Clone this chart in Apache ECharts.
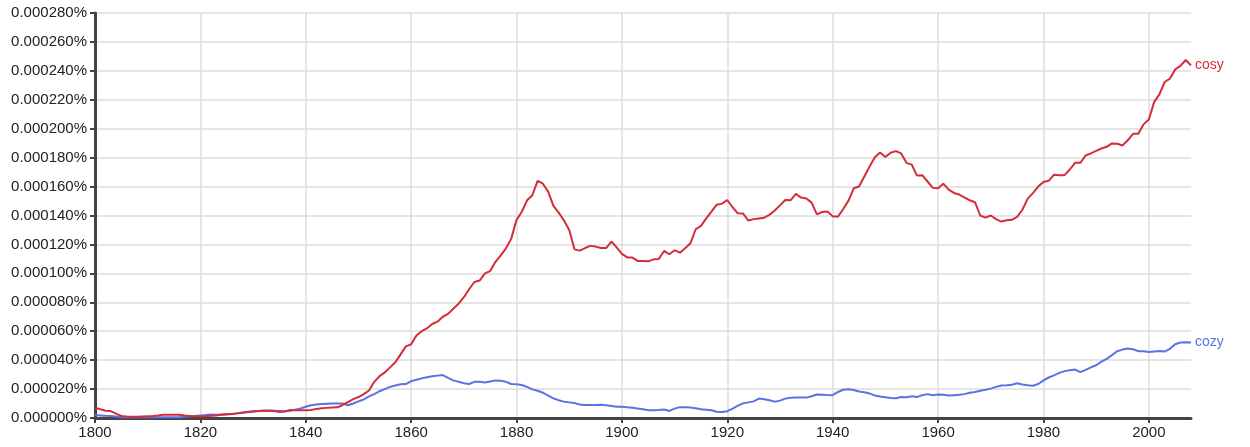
<!DOCTYPE html>
<html>
<head>
<meta charset="utf-8">
<script src="https://cdn.jsdelivr.net/npm/echarts@6/dist/echarts.min.js"></script>
<style>
html,body{margin:0;padding:0;background:#fff;}
#chart{width:1250px;height:447px;}
</style>
</head>
<body>
<div id="chart"></div>
<script>
// Years 1800..2008, values in millionths of a percent (1 = 0.000001%)
const startYear = 1800;
const endYear = 2008;
const xTicks = [1800, 1820, 1840, 1860, 1880, 1900, 1920, 1940, 1960, 1980, 2000];
const yTicks = [0, 20, 40, 60, 80, 100, 120, 140, 160, 180, 200, 220, 240, 260, 280];

const cosy = [
  7.1, 6, 5, 4.8, 3, 1.4, 1, 0.8, 0.8, 1,
  1.2, 1.4, 1.8, 2.3, 2.3, 2.3, 2.3, 1.8, 1.4, 1.2,
  1, 1.2, 1.6, 1.8, 2.2, 2.5, 2.8, 3.2, 3.8, 4.4,
  4.7, 4.9, 5, 5, 4.8, 4.2, 4.5, 5.5, 5.4, 5.3,
  5.3, 5.6, 6.3, 6.8, 7, 7.2, 7.4, 9, 11, 13,
  14.5, 16.5, 19, 25, 29, 31.5, 35, 38.5, 44, 49.5,
  51, 57, 60, 62, 65, 66.6, 70, 72, 75.5, 79,
  83.5, 89, 94, 95, 100, 101.6, 108, 112.5, 117.3, 124,
  137, 142.6, 150.5, 154, 164, 162, 156.5, 146.6, 142, 136.5,
  130, 116.6, 115.7, 117.5, 119, 118.5, 117.5, 117.5, 122, 118,
  113.5, 111, 110.9, 108.6, 108.5, 108.3, 109.7, 110, 115.5, 113.2,
  116, 114.3, 117.3, 120.8, 130.5, 132.8, 138, 142.7, 147.5, 148.2,
  150.7, 145.7, 141.5, 141.3, 136.5, 137.5, 138, 138.5, 140.5, 143.5,
  147, 150.7, 150.5, 154.9, 152.4, 151.7, 148.9, 140.8, 142.4, 142.7,
  139.4, 139.2, 144.5, 150.3, 158.8, 160, 166.9, 173.8, 180.2, 183.5,
  180.4, 183.4, 184.5, 182.9, 176.4, 175.2, 167.6, 167.9, 163.5, 159.1,
  158.8, 162, 157.9, 155.6, 154.5, 152.5, 150.5, 149.2, 140, 138.5,
  140, 137.5, 135.8, 136.7, 137, 139, 144, 151.7, 155.5, 160,
  163.2, 164, 168.2, 167.9, 167.9, 171.8, 176.4, 176.4, 181.5, 183,
  184.7, 186.3, 187.5, 189.8, 189.6, 188.4, 192, 196.5, 196.5, 203,
  206.4, 218.4, 223.7, 232.3, 234.6, 241, 243.4, 247.5, 243.8
];

const cozy = [
  2, 1.8, 1.5, 1.4, 1, 0.6, 0.5, 0.5, 0.5, 0.5,
  0.5, 0.5, 0.5, 0.5, 0.5, 0.5, 0.6, 0.8, 1, 1.4,
  1.8, 2, 2.5, 2.3, 2.5, 2.7, 2.8, 3.2, 3.6, 4,
  4.4, 4.8, 5, 5.1, 5, 4.8, 4.6, 5, 5.8, 6.6,
  7.8, 8.8, 9.4, 9.7, 9.9, 10, 10, 10, 8.8, 10,
  11.5, 12.8, 15, 16.5, 18.5, 20, 21.5, 22.5, 23.3, 23.5,
  25.5, 26.5, 27.4, 28.2, 28.8, 29.3, 29.7, 27.8, 26, 25,
  24, 23.5, 25, 25, 24.6, 25.3, 26, 25.7, 25, 23.5,
  23.3, 22.8, 21.5, 19.8, 18.8, 17.5, 15.5, 13.6, 12.3, 11.3,
  10.8, 10.3, 9.3, 9, 9, 9, 9.2, 8.8, 8.3, 7.8,
  7.8, 7.4, 7.1, 6.5, 6, 5.3, 5.4, 5.6, 5.9, 4.9,
  6.5, 7.5, 7.5, 7.3, 6.8, 6.1, 5.7, 5.3, 4.3, 4.2,
  4.7, 6.5, 8.5, 10.1, 10.8, 11.5, 13.4, 13, 12.3, 11.3,
  12, 13.4, 14, 14.1, 14.1, 14.1, 15, 16.2, 16.1, 15.9,
  15.8, 18, 19.5, 19.8, 19.3, 18.3, 17.8, 17, 15.5, 14.8,
  14.4, 13.8, 13.6, 14.5, 14.3, 15, 14.5, 15.8, 16.5, 15.8,
  16.2, 16, 15.6, 15.8, 16, 16.5, 17.5, 18, 18.8, 19.5,
  20.3, 21.5, 22.5, 22.6, 23, 24, 23.2, 22.6, 22.3, 23.5,
  26, 28, 29.5, 31.2, 32.4, 33, 33.5, 31.7, 33.3, 35,
  36.5, 39, 40.9, 43.5, 46.2, 47.3, 48, 47.5, 46.2, 46.2,
  45.6, 46, 46.4, 45.9, 47.8, 51, 52.2, 52.4, 52.2
];

const years = [];
for (let y = startYear; y <= endYear; y++) years.push(y);
const pairs = arr => arr.map((v, i) => [years[i], v]);

const chart = echarts.init(document.getElementById('chart'), null, {renderer: 'canvas'});
const fontFamily = 'Helvetica, "Liberation Sans", Arial, sans-serif';
const axisDark = '#444';
const gridColor = '#dddddd';
// vertical grid lines at the 20-year ticks only (none at the 2008 end)
const vGridColors = xTicks.map(() => gridColor).concat(['rgba(0,0,0,0)']);

const option = {
  animation: false,
  backgroundColor: '#fff',
  grid: {left: 95, right: 59, top: 13, bottom: 29, containLabel: false},
  xAxis: {
    type: 'value',
    min: startYear,
    max: endYear,
    interval: 20,
    axisLine: {show: true, onZero: false, lineStyle: {color: axisDark, width: 3}},
    axisTick: {show: true, length: 5, lineStyle: {color: axisDark, width: 2}, customValues: xTicks},
    axisLabel: {color: '#222', fontSize: 15, fontFamily: fontFamily, margin: 7, customValues: xTicks,
      formatter: v => String(v)},
    splitLine: {show: true, lineStyle: {color: vGridColors, width: 1.5}}
  },
  yAxis: {
    type: 'value',
    min: 0,
    max: 280,
    interval: 20,
    axisLine: {show: true, lineStyle: {color: axisDark, width: 3}},
    axisTick: {show: true, length: 5, lineStyle: {color: axisDark, width: 2}},
    axisLabel: {color: '#222', fontSize: 15, fontFamily: fontFamily, margin: 8,
      formatter: v => (v * 1e-6).toFixed(6) + '%'},
    splitLine: {show: true, lineStyle: {color: gridColor, width: 1.5}}
  },
  series: [
    {
      name: 'cosy', type: 'line', data: pairs(cosy), showSymbol: false, symbol: 'none',
      lineStyle: {color: '#d52c3a', width: 2}, itemStyle: {color: '#d52c3a'},
      endLabel: {show: true, formatter: '{a}', color: '#d52c3a', fontSize: 14, fontFamily: fontFamily, distance: 4},
      z: 3
    },
    {
      name: 'cozy', type: 'line', data: pairs(cozy), showSymbol: false, symbol: 'none',
      lineStyle: {color: '#5a72e3', width: 2}, itemStyle: {color: '#5a72e3'},
      endLabel: {show: true, formatter: '{a}', color: '#5a72e3', fontSize: 14, fontFamily: fontFamily, distance: 4},
      z: 2
    }
  ]
};
chart.setOption(option);
</script>
</body>
</html>
